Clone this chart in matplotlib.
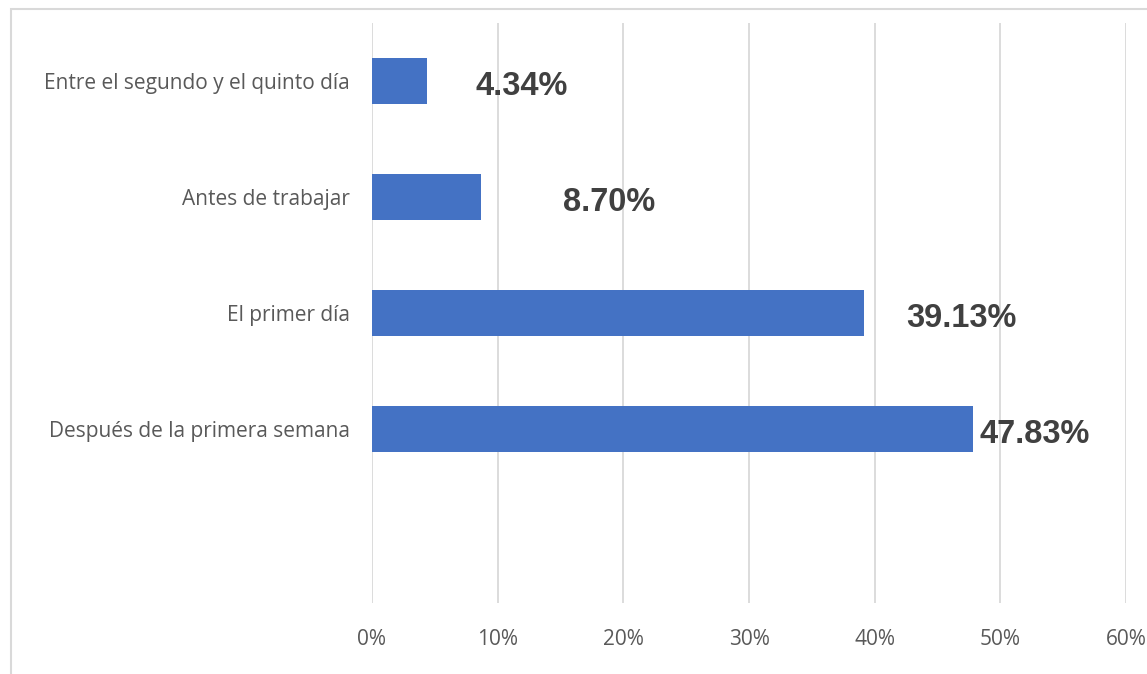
import matplotlib
matplotlib.use("Agg")
import matplotlib.pyplot as plt
from matplotlib.patches import Rectangle
from matplotlib.ticker import FuncFormatter

CATEGORIES = [
    "Entre el segundo y el quinto día",
    "Antes de trabajar",
    "El primer día",
    "Después de la primera semana",
]
VALUES = [4.34, 8.70, 39.13, 47.83]
LABELS = ["4.34%", "8.70%", "39.13%", "47.83%"]
X_TICKS = [0, 10, 20, 30, 40, 50, 60]

# data labels were nudged by hand, keep the same spacing from each bar end
LABEL_SHIFT = [3.9, 6.5, 3.4, 0.55]

BAR_COLOR = "#4472C4"
GRID_COLOR = "#d9d9d9"
TEXT_GRAY = "#595959"
LABEL_GRAY = "#404040"

W, H = 1147, 674
fig = plt.figure(figsize=(W / 100, H / 100), dpi=100)
ax = fig.add_axes([372 / W, 1 - 603 / H, (1126 - 372) / W, (603 - 23) / H])

# chart-area frame
fig.patches.append(Rectangle((11 / W, -0.05), 1.1, 1.05 - 9 / H, transform=fig.transFigure,
                             fill=False, edgecolor=GRID_COLOR, linewidth=1.5))

ypos = list(range(len(CATEGORIES)))
ax.barh(ypos, VALUES, height=0.4, color=BAR_COLOR, zorder=3)

for y, v, lab, dx in zip(ypos, VALUES, LABELS, LABEL_SHIFT):
    ax.text(v + dx, y + 0.05, lab, ha="left", va="center", fontsize=23.5,
            fontweight="bold", family="Liberation Sans", color=LABEL_GRAY, zorder=4)

ax.set_xlim(0, 60)
ax.set_ylim(4.5, -0.5)
ax.set_xticks(X_TICKS)
ax.xaxis.set_major_formatter(FuncFormatter(lambda x, _: f"{x:.0f}%"))
ax.set_yticks(ypos)
ax.set_yticklabels(CATEGORIES)

ax.grid(axis="x", color=GRID_COLOR, linewidth=1.3, zorder=0)
ax.tick_params(axis="both", length=0, colors=TEXT_GRAY, labelsize=15)
ax.tick_params(axis="x", pad=19)
ax.tick_params(axis="y", pad=16)
for t in ax.get_xticklabels() + ax.get_yticklabels():
    t.set_family("Open Sans")
for s in ax.spines.values():
    s.set_visible(False)

fig.savefig("out.png", dpi=100)
